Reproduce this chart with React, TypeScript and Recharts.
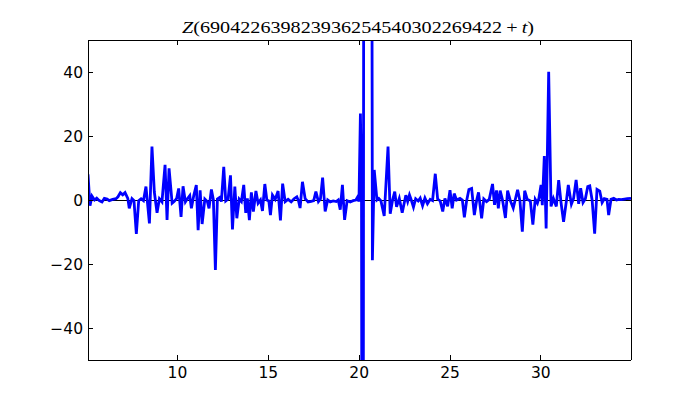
import React from "react";
import { LineChart, Line, XAxis, YAxis, ReferenceLine } from "recharts";

const T: number[] = [
  5.08, 5.19, 5.3, 5.44, 5.56, 5.7, 5.85, 5.98, 6.13, 6.25, 6.44, 6.62, 6.73, 6.86, 6.99, 7.12, 7.27, 7.35, 7.5, 7.61,
  7.74, 7.87, 8.0, 8.13, 8.27, 8.46, 8.6, 8.73, 8.88, 9.01, 9.15, 9.32, 9.43, 9.54, 9.71, 9.83, 9.96, 10.07, 10.2, 10.31,
  10.44, 10.55, 10.68, 10.77, 10.9, 11.04, 11.14, 11.25, 11.36, 11.51, 11.65, 11.74, 11.87, 11.98, 12.09, 12.2, 12.33, 12.42, 12.55, 12.66,
  12.79, 12.92, 13.03, 13.16, 13.27, 13.4, 13.52, 13.65, 13.76, 13.85, 13.96, 14.07, 14.18, 14.32, 14.44, 14.57, 14.68, 14.81, 14.92, 15.03,
  15.12, 15.23, 15.38, 15.54, 15.67, 15.79, 15.93, 16.09, 16.26, 16.42, 16.57, 16.67, 16.75, 16.88, 17.03, 17.19, 17.36, 17.5, 17.62, 17.76,
  17.87, 17.99, 18.13, 18.27, 18.41, 18.57, 18.74, 18.85, 18.96, 19.08, 19.2, 19.34, 19.51, 19.67, 19.82, 19.92, 19.99, 20.07, 20.13, 20.2,
  20.28, 20.64, 20.73, 20.83, 20.98, 21.08, 21.2, 21.38, 21.59, 21.71, 21.84, 21.96, 22.06, 22.21, 22.37, 22.57, 22.67, 22.77, 22.87, 22.99,
  23.11, 23.25, 23.36, 23.49, 23.62, 23.76, 23.91, 24.04, 24.19, 24.32, 24.46, 24.6, 24.72, 24.87, 25.0, 25.12, 25.23, 25.36, 25.55, 25.68,
  25.79, 25.91, 26.04, 26.19, 26.34, 26.47, 26.57, 26.74, 26.86, 27.01, 27.16, 27.34, 27.45, 27.56, 27.66, 27.76, 27.89, 28.05, 28.17, 28.32,
  28.48, 28.72, 28.85, 28.98, 29.11, 29.25, 29.42, 29.56, 29.69, 29.81, 29.89, 30.01, 30.08, 30.19, 30.29, 30.43, 30.56, 30.69, 30.85, 30.98,
  31.11, 31.25, 31.4, 31.51, 31.68, 31.8, 31.94, 32.08, 32.19, 32.32, 32.45, 32.58, 32.69, 32.82, 32.96, 33.09, 33.24, 33.37, 33.49, 33.64,
  33.73, 33.86, 34.01, 34.16, 34.28, 34.43, 34.6, 34.76, 34.96,
];

const Z: number[] = [
  8, -1.8, 1.2, 0, 0.6, -0.2, -0.6, 0.5, 0.3, -0.2, 0.2, 0.4, 1.0, 2.3, 1.6, 2.3, 0.5, -2.6, 0.4, -0.2,
  -10.6, -0.2, 0.4, -0.2, 4.2, -7.3, 16.7, 2.5, -4, 0.4, -0.6, 11, -6.2, 9.9, -1, -0.4, 0.5, 3.6, -5.3, 4.3,
  -0.6, 0.4, 1.4, -2.6, 1.4, 4.7, -9.4, 3, -7.5, 0.3, -0.5, -2.6, 3.3, 0, -21.9, 0.3, 0.8, -0.5, 10.4, -0.3,
  0.3, 7.7, -9.2, 4.2, -5.7, 0.3, -0.5, 4.7, -4, 0.5, -6.3, 2.4, -3.6, 2.8, -1, 0, -3.4, 5, 0, -0.3,
  -4.7, 1.5, 0.2, 2.8, -6.4, 5.1, -0.5, 0.2, -0.6, 0.4, 1, -0.4, -2.5, 5.7, 0.4, -0.6, -0.4, -0.2, 2.6, -0.5,
  0.3, 7, -3.6, 0, -0.6, -0.3, -0.5, 0, -3, 4.7, -6.2, -0.2, -0.6, -0.2, 0, 1, -0.5, 27, 5, -300,
  300, 300, -18.8, 9.4, 0, 0.5, -0.3, -5, 16.7, -4.3, 0, 2.6, -2.1, 0.5, -4, 1.5, -0.5, 1.6, 0, -2.2,
  0.4, -0.3, 0.6, -1.8, 0.6, -1.2, 0.2, -0.2, 8.2, 0.3, -0.3, -3.6, 0.5, -2, 3.1, -2.6, 2, 0, 0.5, 0,
  -5.4, -0.4, 3.3, 3.6, -4.7, 0, 2.4, -5.7, 0.3, -0.5, 0.2, 5, -1.5, 3, -2.6, 2.9, 0, -5.6, 2.9, -0.2,
  -2.5, 3.2, -0.3, -9.9, 2.9, 0.2, -0.3, -7.7, 0.2, -1, 0.5, 4.7, -1.6, 13.7, -8.9, 40.1, -2, 0.5, -2, 6.2,
  -0.8, -6.8, -0.5, 4.7, -1.3, 0.5, 6.3, -1.2, 3.7, -0.8, 0.4, 4.2, 4.4, 0, -10.5, 3.3, 2.8, -0.8, 0.4, 0.2,
  -4.7, 0.2, 0.5, 0, 0.2, 0.1, 0.3, 0.4, 0.5,
];

const X_TICKS = [10, 15, 20, 25, 30];
const Y_TICKS = [-40, -20, 0, 20, 40];
const X_DOMAIN: [number, number] = [5.08, 34.96];
const Y_DOMAIN: [number, number] = [-50, 50];

const data = T.map((t, i) => ({ t, z: Z[i] }));

const FONT = "'DejaVu Sans', sans-serif";
const fmt = (v: number) => String(v).replace("-", "\u2212");
const AXIS_LINE = { stroke: "#000", strokeWidth: 1, shapeRendering: "crispEdges" } as any;

const BottomTick = (props: any) => {
  const { x, y, payload } = props;
  return (
    <g>
      <line x1={x} y1={y} x2={x} y2={y - 5} stroke="#000" strokeWidth={1} shapeRendering="crispEdges" />
      <text x={x} y={y + 17.5} textAnchor="middle" fontFamily={FONT} fontSize={15.5} fill="#000">
        {fmt(payload.value)}
      </text>
    </g>
  );
};

const TopTick = (props: any) => {
  const { x, y } = props;
  return <line x1={x} y1={y} x2={x} y2={y + 5} stroke="#000" strokeWidth={1} shapeRendering="crispEdges" />;
};

const LeftTick = (props: any) => {
  const { x, y, payload } = props;
  return (
    <g>
      <line x1={x} y1={y} x2={x + 5} y2={y} stroke="#000" strokeWidth={1} shapeRendering="crispEdges" />
      <text x={x - 5} y={y + 5.5} textAnchor="end" fontFamily={FONT} fontSize={15.5} fill="#000">
        {fmt(payload.value)}
      </text>
    </g>
  );
};

const RightTick = (props: any) => {
  const { x, y } = props;
  return <line x1={x} y1={y} x2={x - 5} y2={y} stroke="#000" strokeWidth={1} shapeRendering="crispEdges" />;
};

export default function App() {
  return (
    <div style={{ position: "absolute", left: 0, top: 0, width: 700, height: 400, background: "#fff" }}>
      <LineChart
        width={700}
        height={400}
        data={data}
        margin={{ top: 30, right: 59, bottom: 10, left: 48 }}
      >
        <XAxis
          xAxisId="b"
          dataKey="t"
          type="number"
          domain={X_DOMAIN}
          allowDataOverflow
          ticks={X_TICKS}
          interval={0}
          height={30}
          tickSize={0}
          tickMargin={0}
          tickLine={false}
          axisLine={AXIS_LINE}
          tick={BottomTick}
        />
        <XAxis
          xAxisId="top"
          orientation="top"
          dataKey="t"
          type="number"
          domain={X_DOMAIN}
          allowDataOverflow
          ticks={X_TICKS}
          interval={0}
          height={10}
          tickSize={0}
          tickMargin={0}
          tickLine={false}
          axisLine={AXIS_LINE}
          tick={TopTick}
        />
        <YAxis
          yAxisId="l"
          type="number"
          domain={Y_DOMAIN}
          allowDataOverflow
          ticks={Y_TICKS}
          interval={0}
          width={40}
          tickSize={0}
          tickMargin={0}
          tickLine={false}
          axisLine={AXIS_LINE}
          tick={LeftTick}
        />
        <YAxis
          yAxisId="right"
          orientation="right"
          type="number"
          domain={Y_DOMAIN}
          allowDataOverflow
          ticks={Y_TICKS}
          interval={0}
          width={10}
          tickSize={0}
          tickMargin={0}
          tickLine={false}
          axisLine={AXIS_LINE}
          tick={RightTick}
        />
        <ReferenceLine xAxisId="b" yAxisId="l" y={0} stroke="#000" strokeWidth={1} shapeRendering="crispEdges" />
        <Line
          xAxisId="b"
          yAxisId="l"
          type="linear"
          dataKey="z"
          stroke="#0000ff"
          strokeWidth={2.8}
          dot={false}
          isAnimationActive={false}
        />
        <Line
          xAxisId="top"
          yAxisId="right"
          type="linear"
          dataKey="z"
          stroke="none"
          dot={false}
          activeDot={false}
          isAnimationActive={false}
        />
      </LineChart>
      <svg width={700} height={40} style={{ position: "absolute", left: 0, top: 0 }}>
        <text
          x={358}
          y={33}
          textAnchor="middle"
          fontFamily="'Liberation Serif', 'DejaVu Serif', serif"
          fontSize={17}
          textLength={352}
          lengthAdjust="spacingAndGlyphs"
          fill="#000"
        >
          <tspan fontStyle="italic">Z</tspan>(690422639823936254540302269422{"\u2009+\u2009"}
          <tspan fontStyle="italic">t</tspan>)
        </text>
      </svg>
    </div>
  );
}
